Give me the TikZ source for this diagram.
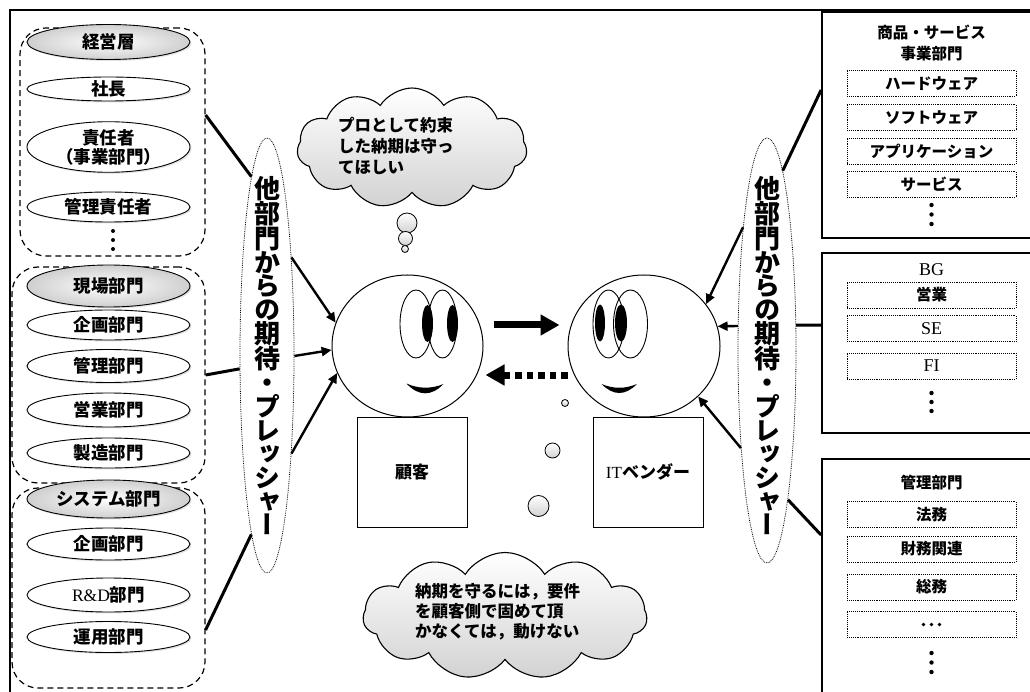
\documentclass[tikz,border=0pt]{standalone}
\usepackage{fontspec}
\setmainfont{Liberation Serif}
\newfontfamily\jp{Noto Sans CJK JP}
\newfontfamily\jpv{Noto Sans CJK JP}[RawFeature=+vert]
\usetikzlibrary{arrows.meta,positioning,shapes.geometric,shapes.symbols,shadows}
\definecolor{shadegray}{HTML}{CFCFCF}
\definecolor{cloudgray}{HTML}{D2D2D2}
\newcommand{\jpb}{\jp\bfseries}
\newcommand{\serif}[1]{{\rmfamily\mdseries #1}}
\newcommand{\pressurelabel}{他\\部\\門\\か\\ら\\の\\期\\待\\・\\プ\\レ\\ッ\\シ\\ャ\\ー}
\tikzset{
    frameline/.style={line width=2pt},
    grpbox/.style={draw,line width=1.2pt,dash pattern=on 6pt off 4pt,
      rounded corners=26pt,inner sep=0pt},
    orgell/.style={ellipse,draw,fill=white,line width=0.9pt,minimum width=163pt,
      inner sep=0pt,align=center,font=\jpb\fontsize{17.5}{19}\selectfont,
      drop shadow={opacity=0.22,shadow xshift=1.5pt,shadow yshift=-1.5pt}},
    orghead/.style={orgell,inner color=white,outer color=shadegray},
    pressbub/.style={ellipse,draw,densely dotted,line width=0.8pt,
      minimum width=54pt,minimum height=435pt,inner sep=0pt},
    presstext/.style={inner sep=0pt,align=center,
      font=\jpv\bfseries\fontsize{26}{23.7}\selectfont},
    pressarrow/.style={-{Triangle[length=10pt,width=9pt]},line width=2.4pt},
    linkline/.style={line width=3pt},
    bigarrow/.style={-{Triangle[length=19pt,width=20pt]},line width=7pt},
    dotarrow/.style={bigarrow,dash pattern=on 6.5pt off 5pt},
    head/.style={ellipse,draw,line width=1pt,minimum width=151pt,minimum height=142pt,
      inner sep=0pt},
    eyeline/.style={line width=0.9pt},
    bodybox/.style={draw,fill=white,line width=1pt,minimum size=110pt,inner sep=0pt,
      font=\jpb\fontsize{17}{19}\selectfont},
    cloudshape/.style={cloud,draw,line width=1.1pt,cloud puffs=11,cloud puff arc=115,
      inner sep=0pt,top color=white,bottom color=cloudgray},
    cloudtext/.style={inner sep=0pt,align=left,font=\jpb\fontsize{16.5}{21}\selectfont},
    trail/.style={circle,draw,line width=0.8pt,inner sep=0pt,
      top color=white,bottom color=cloudgray},
    panel/.style={draw,line width=1.8pt,minimum width=220pt,inner sep=0pt},
    paneltitle/.style={inner sep=0pt,align=center,font=\jpb\fontsize{15.5}{21}\selectfont},
    unitbox/.style={draw,densely dotted,line width=0.9pt,minimum width=169pt,
      minimum height=26pt,inner sep=0pt,font=\jpb\fontsize{15.5}{18}\selectfont}
}
\begin{document}
\begin{tikzpicture}[x=1pt,y=-1pt]
  \useasboundingbox (0,0) rectangle (1030,692);
  \clip (0,0) rectangle (1030,692);
  \draw[frameline] (10,700) -- (10,10) -- (1040,10);

  % staff groups on the left
  \node[grpbox,minimum width=185pt,minimum height=228pt] (topgrp) at (112.5,142) {};
  \node[grpbox,minimum width=193pt,minimum height=216pt] (sitegrp) at (108.5,375) {};
  \node[grpbox,minimum width=193pt,minimum height=200pt] (sysgrp) at (108.5,588) {};

  \node[orghead,minimum height=35pt] (exec) at (108.5,42) {経営層};
  \node[orgell,minimum height=24pt] (pres) at (108.5,89) {社長};
  \node[orgell,minimum height=50pt] (bizhead) at (108.5,147) {責任者\\（事業部門）};
  \node[orgell,minimum height=30pt] (mgrhead) at (108.5,207) {管理責任者};
  \fill (113,231) circle (2pt) (113,240) circle (2pt) (113,249) circle (2pt);

  \node[orghead,minimum height=42pt] (site) at (108.5,286) {現場部門};
  \node[orgell,minimum height=30pt] (plan1) at (108.5,325) {企画部門};
  \node[orgell,minimum height=33pt] (admin1) at (108.5,366) {管理部門};
  \node[orgell,minimum height=34pt] (sales1) at (108.5,410) {営業部門};
  \node[orgell,minimum height=30pt] (mfg) at (108.5,453) {製造部門};

  \node[orghead,minimum height=38pt] (sysdept) at (108.5,499) {システム部門};
  \node[orgell,minimum height=32pt] (plan2) at (108.5,544) {企画部門};
  \node[orgell,minimum height=34pt] (rnd) at (108.5,595) {\serif{R\&D}部門};
  \node[orgell,minimum height=31pt] (ops) at (108.5,637) {運用部門};

  % pressure bubbles
  \node[pressbub] (pressL) at (267,355.5) {};
  \node[presstext] at (pressL.center) {\pressurelabel};
  \node[pressbub,minimum width=58pt,minimum height=425pt] (pressR) at (767,350.5) {};
  \node[presstext] at (767,355.5) {\pressurelabel};

  % customer and vendor
  \node[head] (client) at (407.5,346) {};
  \node[head,minimum width=152pt] (vendor) at (644,346) {};
  \node[bodybox] (clientbody) at (412,472) {顧客};
  \node[bodybox] (vendorbody) at (648,472) {\serif{IT}ベンダー};

  \begin{scope}[shift={(client.center)}]
    \draw[eyeline] (8.5,-22) ellipse [x radius=16pt,y radius=34pt];
    \draw[eyeline] (35,-22) ellipse [x radius=14.5pt,y radius=34pt];
    \fill (20,-22.5) ellipse [x radius=5.5pt,y radius=18.5pt];
    \fill (45,-22.5) ellipse [x radius=5.5pt,y radius=18.5pt];
    \fill (-1,37.5) .. controls (11,50.5) and (24,50.5) .. (36,38)
      .. controls (24,43) and (11,43) .. cycle;
  \end{scope}
  \begin{scope}[shift={(vendor.center)}]
    \draw[eyeline] (-35.5,-22) ellipse [x radius=15.5pt,y radius=34pt];
    \draw[eyeline] (-13.5,-22) ellipse [x radius=17pt,y radius=34pt];
    \fill (-44,-23) ellipse [x radius=5pt,y radius=18.5pt];
    \fill (-23,-23) ellipse [x radius=6pt,y radius=18.5pt];
    \fill (-42.5,38) .. controls (-30.5,50) and (-19,50) .. (-7,38)
      .. controls (-19,43) and (-30.5,43) .. cycle;
  \end{scope}

  \draw[bigarrow] ([xshift=10pt,yshift=21pt]client.east) -- ([xshift=-8pt,yshift=21pt]vendor.west);
  \draw[dotarrow] ([yshift=-29pt]vendor.west) -- ([xshift=2pt,yshift=-29pt]client.east);

  % thoughts
  \node[cloudshape,minimum width=230pt,minimum height=120pt] (wish) at (412,148) {};
  \node[cloudtext,anchor=west] at (338,146) {プロとして約束\\した納期は守っ\\てほしい};
  \node[trail,minimum size=20pt] (w1) at (407,223) {};
  \node[trail,minimum size=14pt] (w2) at (405.5,238.5) {};
  \node[trail,minimum size=7pt] (w3) at (405,249) {};

  \node[trail,minimum size=7pt] (v1) at (565,403) {};
  \node[trail,minimum size=15pt] (v2) at (552.5,450.5) {};
  \node[trail,minimum size=21pt] (v3) at (538.5,506) {};
  \node[cloudshape,minimum width=284pt,minimum height=127pt] (need) at (505,616) {};
  \node[cloudtext,anchor=west,font=\jpb\fontsize{16.5}{20}\selectfont] at (415,612)
    {納期を守るには，要件\\を顧客側で固めて頂\\かなくては，動けない};

  % vendor side units
  \node[panel,minimum height=226pt] (prodpanel) at (932,125) {};
  \node[paneltitle] at (931.5,42.5) {商品・サービス\\事業部門};
  \node[unitbox] (hw) at (931.5,83.5) {ハードウェア};
  \node[unitbox] (sw) at (931.5,117.5) {ソフトウェア};
  \node[unitbox] (app) at (931.5,151) {アプリケーション};
  \node[unitbox] (svc) at (931.5,184.5) {サービス};
  \fill (931.5,205) circle (2.2pt) (931.5,214.5) circle (2.2pt) (931.5,224) circle (2.2pt);

  \node[panel,minimum height=180pt] (bgpanel) at (932,343) {};
  \node[paneltitle,font=\rmfamily\fontsize{18}{20}\selectfont] at (931.5,270) {BG};
  \node[unitbox] (sales2) at (931.5,295) {営業};
  \node[unitbox] (se) at (931.5,328.5) {\serif{\fontsize{18}{20}\selectfont SE}};
  \node[unitbox] (fi) at (931.5,366) {\serif{\fontsize{18}{20}\selectfont FI}};
  \fill (931.5,393) circle (2.2pt) (931.5,402) circle (2.2pt) (931.5,411) circle (2.2pt);

  \node[panel,minimum height=262pt] (adminpanel) at (932,590) {};
  \node[paneltitle] at (931.5,483) {管理部門};
  \node[unitbox] (legal) at (931.5,514.5) {法務};
  \node[unitbox] (fin) at (931.5,549) {財務関連};
  \node[unitbox] (ga) at (931.5,587) {総務};
  \node[unitbox] (etc) at (931.5,624.5) {};
  \fill (923.5,624.5) circle (1.8pt) (931.5,624.5) circle (1.8pt) (939.5,624.5) circle (1.8pt);
  \fill (931.5,653) circle (2.2pt) (931.5,662.5) circle (2.2pt) (931.5,672) circle (2.2pt);

  % links and pressure arrows
  \draw[linkline] ([yshift=27pt]topgrp.east) -- (pressL.95.5);
  \draw[linkline] (sitegrp.east) -- (pressL.206);
  \draw[linkline] ([yshift=-42pt]sysgrp.east) -- (pressL.265);
  \draw[linkline] ([yshift=35pt]prodpanel.west) -- (pressR.85.4);
  \draw[linkline] ([yshift=18pt]bgpanel.west) -- (pressR.41);
  \draw[linkline] ([yshift=55pt]adminpanel.west) -- (pressR.-82);

  \draw[pressarrow] (pressL.76) -- (client.162);
  \draw[pressarrow] (pressL.-1) -- (client.183);
  \draw[pressarrow] (pressL.-76) -- (client.201);
  \draw[pressarrow] (pressR.101.5) -- (vendor.34);
  \draw[pressarrow] (pressR.140) -- (vendor.15);
  \draw[pressarrow] (pressR.-105.6) -- (vendor.-43);
\end{tikzpicture}
\end{document}
